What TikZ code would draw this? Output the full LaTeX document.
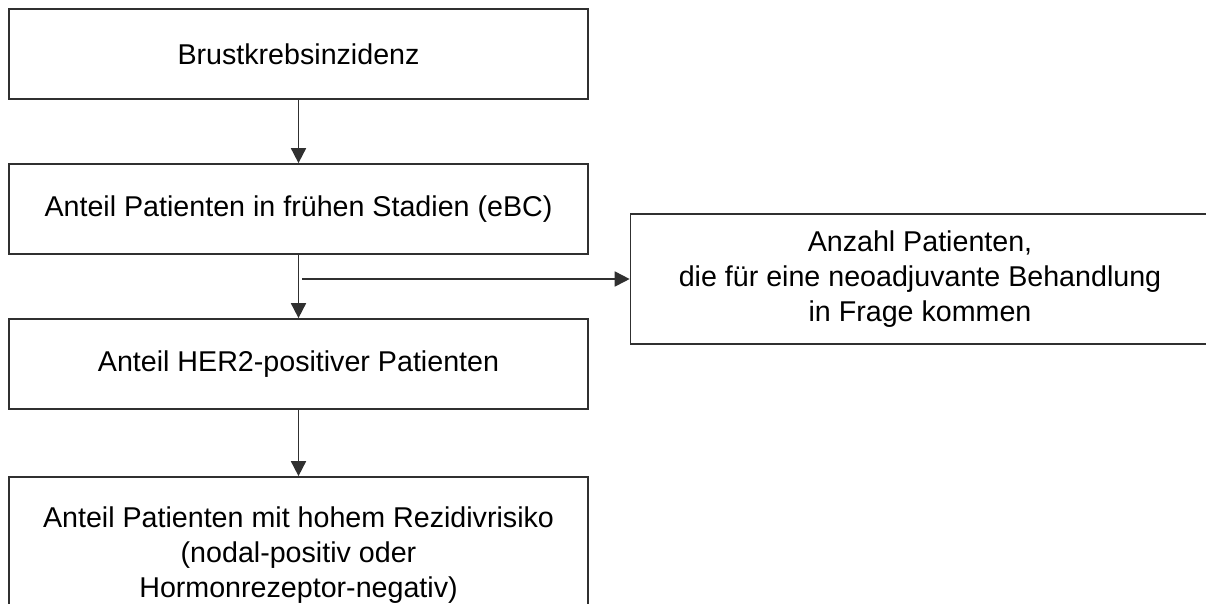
\documentclass[tikz,border=0pt]{standalone}
\usepackage{fontspec}
\setmainfont{Liberation Sans}
\usetikzlibrary{arrows.meta, positioning}
\definecolor{cline}{HTML}{303030}
\tikzset{
  every picture/.style={x=0.02cm, y=-0.02cm, line width=1pt},
  box/.style={draw=cline, fill=white, align=center, inner sep=0pt,
    minimum width=11.58cm, font=\fontsize{16.3}{19.9}\selectfont},
  arrow/.style={-{Triangle[length=0.3cm, width=0.3cm]}, draw=cline, line width=1pt},
}

\begin{document}
\begin{tikzpicture}
  \useasboundingbox (0,0) rectangle (1206,603);
  \node[box, minimum height=1.8cm] (inz) at (298.5, 54) {Brustkrebsinzidenz};
  \node[box, minimum height=1.8cm] (ebc) at (298.5, 209) {Anteil Patienten in frühen Stadien (eBC)};
  \node[box, minimum height=1.8cm] (her) at (298.5, 364) {Anteil HER2-positiver Patienten};
  \node[box, minimum height=3.12cm] (risk) at (298.5, 555) {Anteil Patienten mit hohem Rezidivrisiko\\(nodal-positiv oder\\Hormonrezeptor-negativ)};
  \node[box, minimum height=2.6cm] (neo) at (920, 279) {Anzahl Patienten,\\die für eine neoadjuvante Behandlung\\in Frage kommen};
  \coordinate (split) at (302, 279);
  \draw[arrow] (inz) -- (ebc);
  \draw[arrow] (ebc) -- (her);
  \draw[arrow] (her) -- (risk);
  \draw[arrow] (split) -- (neo.west);
\end{tikzpicture}
\end{document}
